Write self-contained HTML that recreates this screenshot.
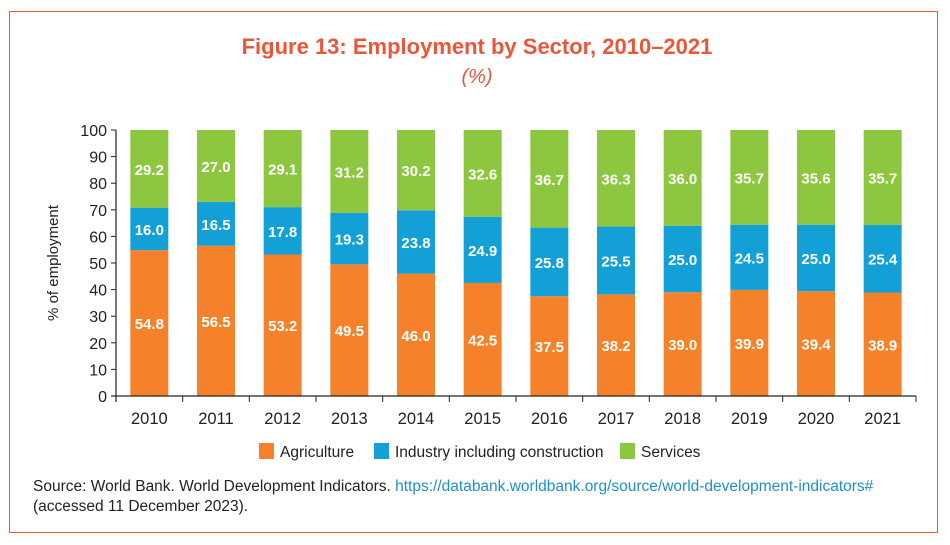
<!DOCTYPE html>
<html><head><meta charset="utf-8"><style>
html,body{margin:0;padding:0;background:#fff;}
body{width:950px;height:545px;position:relative;overflow:hidden;font-family:"Liberation Sans",sans-serif;}
#frame{position:absolute;left:9px;top:11px;width:929px;height:522px;border:1px solid #e8573a;box-sizing:border-box;}
</style></head><body>
<div id="frame"></div>
<svg id="chart" width="950" height="545" style="position:absolute;left:0;top:0">
<text x="477" y="54" text-anchor="middle" font-size="22" font-weight="bold" fill="#e8573a" font-family="Liberation Sans, sans-serif">Figure 13: Employment by Sector, 2010–2021</text>
<text x="477" y="83" text-anchor="middle" font-size="20" font-style="italic" fill="#e8573a" font-family="Liberation Sans, sans-serif">(%)</text>
<text transform="translate(58,263) rotate(-90)" text-anchor="middle" font-size="15" fill="#222">% of employment</text>
<g id="plot"></g>
<g>
<rect x="259" y="443" width="15" height="16" fill="#f5822a"/>
<text x="280" y="457" font-size="15.5" fill="#222">Agriculture</text>
<rect x="374" y="443" width="15" height="16" fill="#12a0d7"/>
<text x="395" y="457" font-size="15.5" fill="#222">Industry including construction</text>
<rect x="620" y="443" width="15" height="16" fill="#8dc63f"/>
<text x="641" y="457" font-size="15.5" fill="#222">Services</text>
</g>
<text x="33" y="491" font-size="15.5" fill="#222">Source: World Bank. World Development Indicators. <tspan fill="#1f8fc9">https://databank.worldbank.org/source/world-development-indicators#</tspan></text>
<text x="33" y="511" font-size="15.5" fill="#222">(accessed 11 December 2023).</text>
</svg>
<script>
const years=["2010","2011","2012","2013","2014","2015","2016","2017","2018","2019","2020","2021"];
const agriculture=[54.8,56.5,53.2,49.5,46.0,42.5,37.5,38.2,39.0,39.9,39.4,38.9];
const industry=[16.0,16.5,17.8,19.3,23.8,24.9,25.8,25.5,25.0,24.5,25.0,25.4];
const services=[29.2,27.0,29.1,31.2,30.2,32.6,36.7,36.3,36.0,35.7,35.6,35.7];
const yTicks=[0,10,20,30,40,50,60,70,80,90,100];
const NS="http://www.w3.org/2000/svg";
const g=document.getElementById('plot');
const x0=116,x1=916,yTop=130,yBot=396;
const bw=(x1-x0)/years.length, barW=38;
const y=v=>yBot-(v/100)*(yBot-yTop);
function mk(t,a){const e=document.createElementNS(NS,t);for(const k in a)e.setAttribute(k,a[k]);g.appendChild(e);return e;}
yTicks.forEach(v=>{
 const l=mk('line',{x1:x0-5,x2:x0,y1:y(v),y2:y(v),stroke:'#222','stroke-width':1});
 
 
 const t=mk('text',{x:x0-9,y:y(v)+6,'text-anchor':'end','font-size':16,fill:'#222'});
 t.textContent=v;
 
 
});
const series=[[agriculture,'#f5822a','agriculture'],[industry,'#12a0d7','industry'],[services,'#8dc63f','services']];
years.forEach((yr,i)=>{
 const cx=x0+bw*(i+0.5);
 let base=0;
 series.forEach(([arr,col,nm])=>{
  const v=arr[i];
  const top=(nm==='services')?100:base+v;
  const r=mk('rect',{x:cx-barW/2,y:y(top),width:barW,height:y(base)-y(top),fill:col});
  
  
  const t=mk('text',{x:cx,y:(y(base)+y(top))/2+6,'text-anchor':'middle','font-size':15,'font-weight':'bold',fill:'#fff'});
  t.textContent=v.toFixed(1);
  
  
  base=top;
 });
 const t=mk('text',{x:cx,y:424,'text-anchor':'middle','font-size':16.5,fill:'#222'});
 t.textContent=yr;
 
 
});
for(let i=0;i<=years.length;i++){
 const xx=x0+bw*i;
 const l=mk('line',{x1:xx,x2:xx,y1:yBot,y2:yBot+6,stroke:'#222','stroke-width':1});
 
 
}
const ya=mk('line',{x1:x0,x2:x0,y1:yTop,y2:yBot+6,stroke:'#222','stroke-width':1.2});


const xa=mk('line',{x1:x0-5,x2:x1,y1:yBot,y2:yBot,stroke:'#222','stroke-width':1.2});


</script>
</body></html>
